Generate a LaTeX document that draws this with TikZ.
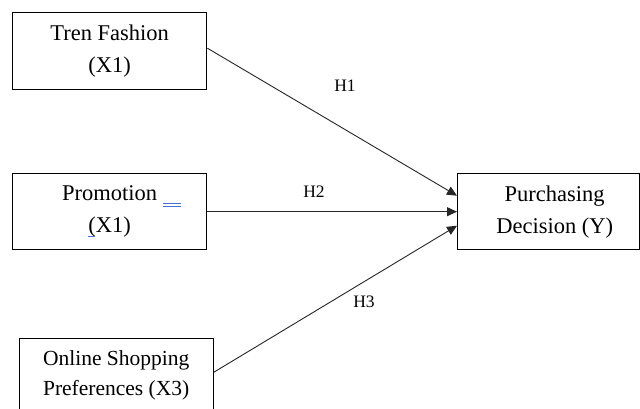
\documentclass[tikz,border=0pt]{standalone}
\usepackage{fontspec}
\setmainfont{Liberation Serif}
\usetikzlibrary{arrows.meta}
\definecolor{wordblue}{RGB}{68,114,210}
\begin{document}
\begin{tikzpicture}[x=1pt,y=-1pt,
  box/.style={draw=black,line width=1.4pt,inner sep=0pt,align=center,anchor=north west,
    font=\fontsize{22.5}{32}\selectfont},
  link/.style={draw=black!85,line width=0.9pt,-{Triangle[length=10pt,width=9pt]}},
  hlabel/.style={font=\fontsize{17.5}{20}\selectfont,inner sep=0pt}]
\useasboundingbox (0,0) rectangle (640,409);
\clip (0,0) rectangle (640,409);
\fill[white] (0,0) rectangle (640,409);
\node[box,minimum width=194pt,minimum height=77pt] (x1) at (12,12) {Tren Fashion\\(X1)};
\node[box,minimum width=194pt,minimum height=76pt] (x2) at (12,173) {Promotion\\(X1)};
\node[box,minimum width=194pt,minimum height=74pt,font=\fontsize{21.5}{30}\selectfont] (x3) at (18.5,337.5) {Online Shopping\\Preferences (X3)};
\node[box,minimum width=182pt,minimum height=76pt] (y) at (457,173) {\hspace*{12pt}Purchasing\\\hspace*{12pt}Decision (Y)};
\coordinate (s1) at ([yshift=3pt]x1.east);
\coordinate (s3) at ([yshift=3pt]x3.east);
\draw[link] (s1) -- ([yshift=16pt]y.west);
\draw[link] (x2.east) -- (y.west);
\draw[link] (s3) -- ([yshift=-14pt]y.west);
\node[hlabel] (h1) at (345,86) {H1};
\node[hlabel] (h2) at (314,192) {H2};
\node[hlabel] (h3) at (364,302) {H3};
% word proofing marks
\draw[wordblue,line width=0.8pt] (163,203) -- (181,203) (163,206.5) -- (181,206.5);
\draw[wordblue,line width=0.8pt] (88,236.5) -- (95,236.5);
\end{tikzpicture}
\end{document}
